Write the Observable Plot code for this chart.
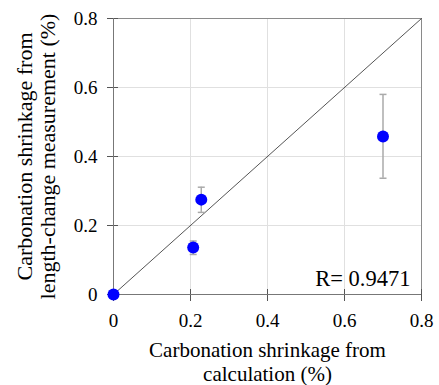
<!DOCTYPE html>
<html>
<head>
<meta charset="utf-8">
<script src="https://cdn.jsdelivr.net/npm/d3@7"></script>
<script src="https://cdn.jsdelivr.net/npm/@observablehq/plot@0.6"></script>
<style>
  html, body { margin: 0; padding: 0; background: #fff; }
</style>
</head>
<body>
<div id="chart"></div>
<script>
const calc = [0, 0.207, 0.228, 0.700];
const measured = [0, 0.136, 0.275, 0.458];
const errLow = [null, 0.116, 0.238, 0.337];
const errHigh = [null, 0.155, 0.311, 0.580];
const ticks = [0, 0.2, 0.4, 0.6, 0.8];
const xTitle = "Carbonation shrinkage from\ncalculation (%)";
const yTitle = "Carbonation shrinkage from\nlength-change measurement (%)";
const rLabel = "R= 0.9471";

const data = calc.map((x, i) => ({x, y: measured[i], lo: errLow[i], hi: errHigh[i]}));
const bars = data.filter(d => d.lo != null);
const diag = [{x: 0, y: 0}, {x: 0.8, y: 0.8}];

const capSymbol = {
  draw(ctx, size) {
    const w = 3.5;
    ctx.moveTo(-w, 0);
    ctx.lineTo(w, 0);
  }
};

const font = "'Liberation Serif', 'Times New Roman', serif";
const fmt = d => d === 0 ? "0" : String(d);

const chart = Plot.plot({
  width: 439,
  height: 385,
  marginLeft: 113,
  marginRight: 18,
  marginTop: 18,
  marginBottom: 91,
  style: {fontFamily: font, fontSize: "19px", color: "#000", background: "#fff"},
  x: {domain: [0, 0.8]},
  y: {domain: [0, 0.8]},
  marks: [
    Plot.gridX(ticks.slice(1, -1), {stroke: "#e0e0e0", strokeOpacity: 1}),
    Plot.gridY(ticks.slice(1, -1), {stroke: "#e0e0e0", strokeOpacity: 1}),
    Plot.frame({stroke: "#8a8a8a"}),
    Plot.axisX({ticks: ticks, tickSize: 7, tickPadding: 12, label: null, stroke: "#555", fontSize: 19, fill: "#000", tickFormat: fmt}),
    Plot.axisX({ticks: ticks, tickSize: -5, label: null, stroke: "#555", tickFormat: () => ""}),
    Plot.axisY({ticks: ticks, tickSize: 6, tickPadding: 10, label: null, stroke: "#555", fontSize: 19, fill: "#000", tickFormat: fmt}),
    Plot.axisY({ticks: ticks, tickSize: -5, label: null, stroke: "#555", tickFormat: () => ""}),
    Plot.ruleX([0], {stroke: "#777"}),
    Plot.ruleY([0], {stroke: "#777"}),
    Plot.line(diag, {x: "x", y: "y", stroke: "#555", strokeWidth: 1}),
    Plot.ruleX(bars, {x: "x", y1: "lo", y2: "hi", stroke: "#aaa", strokeWidth: 1.5}),
    Plot.dot(bars, {x: "x", y: "lo", symbol: capSymbol, stroke: "#aaa", strokeWidth: 1.5, r: 3}),
    Plot.dot(bars, {x: "x", y: "hi", symbol: capSymbol, stroke: "#aaa", strokeWidth: 1.5, r: 3}),
    Plot.dot(data, {x: "x", y: "y", r: 6, fill: "#0000ff", stroke: "none"}),
    Plot.text([rLabel], {frameAnchor: "bottom-right", dx: -11, dy: -9, fontSize: 22.5, fill: "#000", textAnchor: "end", lineAnchor: "bottom"}),
    Plot.text([xTitle], {frameAnchor: "bottom", dy: 46, fontSize: 21, fill: "#000", textAnchor: "middle", lineAnchor: "top", lineHeight: 1.12}),
    Plot.text([yTitle], {frameAnchor: "left", dx: -98, rotate: -90, fontSize: 22, fill: "#000", textAnchor: "middle", lineAnchor: "top", lineHeight: 1.05})
  ]
});
document.getElementById("chart").appendChild(chart);
</script>
</body>
</html>
